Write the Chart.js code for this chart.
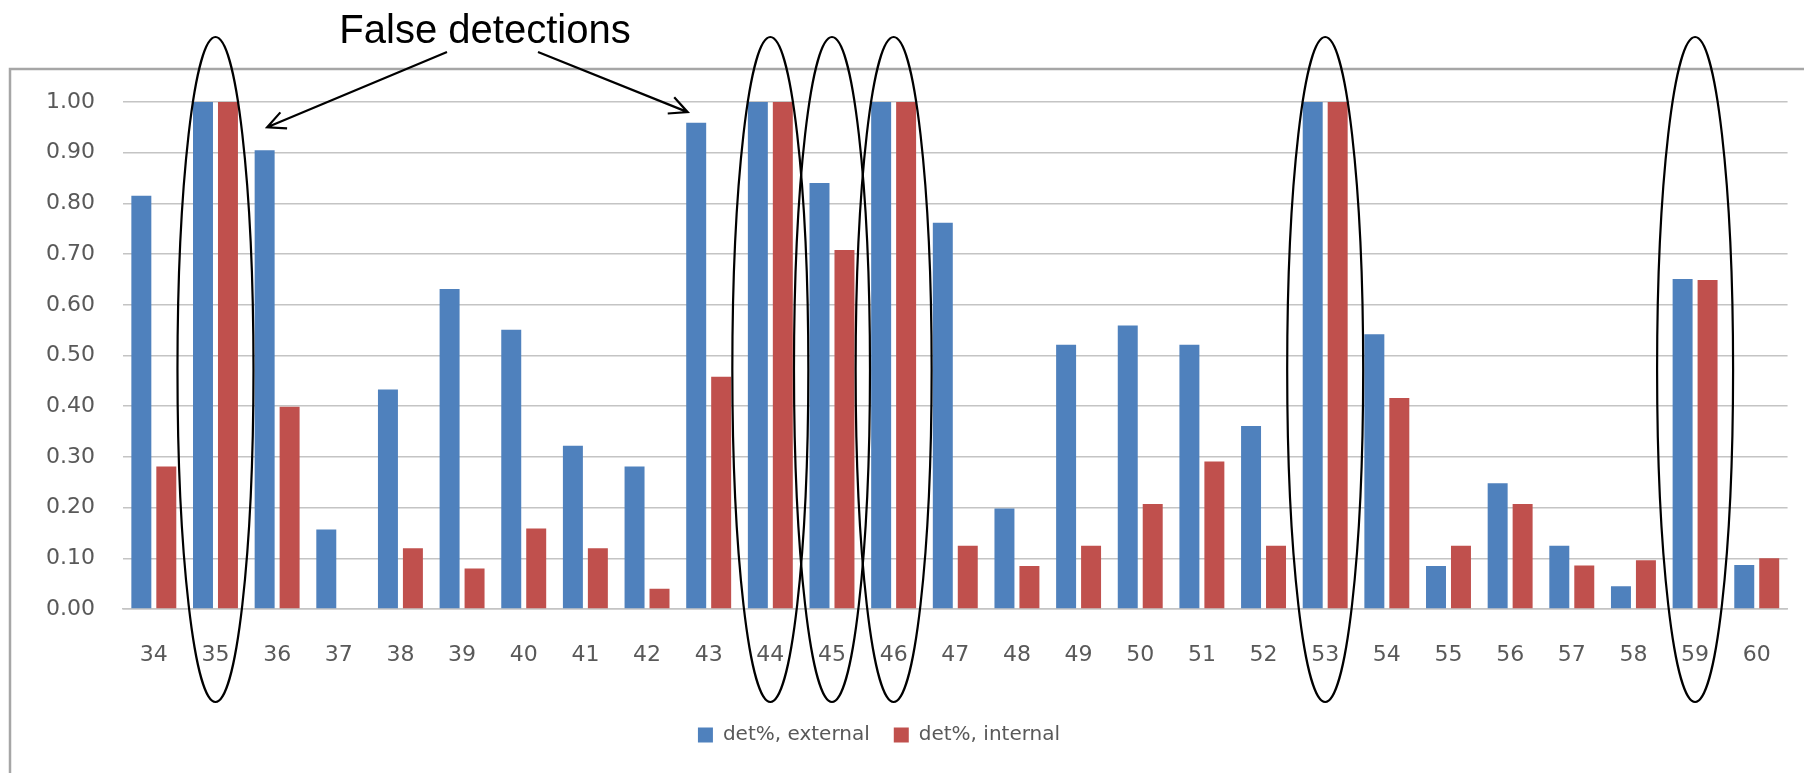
<!DOCTYPE html>
<html>
<head>
<meta charset="utf-8">
<script src="https://cdn.jsdelivr.net/npm/chart.js@4"></script>
<style>
  html, body { margin: 0; padding: 0; background: #fff; }
  #wrap { width: 1804px; height: 773px; position: relative; }
</style>
</head>
<body>
<div id="wrap"><canvas id="detChart"></canvas></div>
<script>
const categories = ['34','35','36','37','38','39','40','41','42','43','44','45','46','47',
  '48','49','50','51','52','53','54','55','56','57','58','59','60'];
const detExternal = [0.815, 1.00, 0.905, 0.157, 0.433, 0.631, 0.551, 0.322, 0.281, 0.959, 1.00, 0.840, 1.00, 0.762,
  0.198, 0.521, 0.559, 0.521, 0.361, 1.00, 0.542, 0.085, 0.248, 0.125, 0.045, 0.651, 0.087];
const detInternal = [0.281, 1.00, 0.399, 0.00, 0.120, 0.080, 0.159, 0.120, 0.040, 0.458, 1.00, 0.708, 1.00, 0.125,
  0.085, 0.125, 0.207, 0.291, 0.125, 1.00, 0.416, 0.125, 0.207, 0.086, 0.096, 0.649, 0.100];
const circled = ['35','44','45','46','53','59'];
const seriesNames = ['det%, external', 'det%, internal'];

const textColor = '#595959';
const gridColor = '#c4c4c4';

// frame, circles and the "False detections" callout
const overlay = {
  id: 'overlay',
  beforeDraw(chart) {
    const ctx = chart.ctx;
    ctx.save();
    ctx.strokeStyle = '#a6a6a6';
    ctx.lineWidth = 2.5;
    ctx.strokeRect(10, 69, chart.width + 20, chart.height + 20);
    ctx.restore();
  },
  afterDraw(chart) {
    const ctx = chart.ctx;
    const x = chart.scales.x, y = chart.scales.y;
    ctx.save();
    ctx.strokeStyle = '#000';
    ctx.lineWidth = 2.2;
    const top = y.getPixelForValue(1) - 65;
    const bottom = y.getPixelForValue(0) + 93;
    circled.forEach(c => {
      const cx = x.getPixelForValue(categories.indexOf(c));
      ctx.beginPath();
      ctx.ellipse(cx, (top + bottom) / 2, 38, (bottom - top) / 2, 0, 0, Math.PI * 2);
      ctx.stroke();
    });

    ctx.fillStyle = '#000';
    ctx.font = '40px "Liberation Sans", Arial, sans-serif';
    ctx.textAlign = 'center';
    ctx.textBaseline = 'alphabetic';
    ctx.fillText('False detections', 485, 43);

    const arrow = (x1, y1, x2, y2) => {
      ctx.beginPath();
      ctx.moveTo(x1, y1);
      ctx.lineTo(x2, y2);
      const a = Math.atan2(y2 - y1, x2 - x1);
      const len = 20, spread = 0.45;
      ctx.moveTo(x2 - len * Math.cos(a - spread), y2 - len * Math.sin(a - spread));
      ctx.lineTo(x2, y2);
      ctx.lineTo(x2 - len * Math.cos(a + spread), y2 - len * Math.sin(a + spread));
      ctx.stroke();
    };
    arrow(447, 52, x.getPixelForValue(2) - 10, y.getPixelForValue(0.95));
    arrow(538, 52, x.getPixelForValue(9) - 21, y.getPixelForValue(0.98));
    ctx.restore();
  },
  afterLayout(chart) {
    if (chart.legend) {
      chart.legend.left -= 16;
      chart.legend.right -= 16;
    }
  }
};

new Chart(document.getElementById('detChart'), {
  type: 'bar',
  data: {
    labels: categories,
    datasets: [
      { label: seriesNames[0], data: detExternal, backgroundColor: '#4f81bd' },
      { label: seriesNames[1], data: detInternal, backgroundColor: '#c0504d' }
    ]
  },
  options: {
    responsive: true,
    maintainAspectRatio: false,
    animation: false,
    categoryPercentage: 0.81,
    barPercentage: 0.8,
    layout: { padding: { left: 0, right: 14, top: 102, bottom: 18 } },
    scales: {
      x: {
        grid: { display: false, drawTicks: false },
        border: { display: true, color: gridColor, width: 1.5 },
        ticks: { color: textColor, padding: 33, font: { family: 'DejaVu Sans', size: 22 } },
        afterFit(scale) { scale.height = 92; }
      },
      y: {
        min: 0,
        max: 1,
        grid: { color: gridColor, lineWidth: 1.5, drawTicks: false },
        border: { display: false },
        ticks: {
          stepSize: 0.1,
          color: textColor,
          padding: 28,
          font: { family: 'DejaVu Sans', size: 22 },
          callback: v => v.toFixed(2)
        },
        afterFit(scale) { scale.width = 123; }
      }
    },
    plugins: {
      legend: {
        position: 'bottom',
        labels: {
          color: textColor,
          boxWidth: 15,
          boxHeight: 15,
          padding: 24,
          font: { family: 'DejaVu Sans', size: 20 }
        }
      },
      tooltip: { enabled: false }
    }
  },
  plugins: [overlay]
});
</script>
</body>
</html>
